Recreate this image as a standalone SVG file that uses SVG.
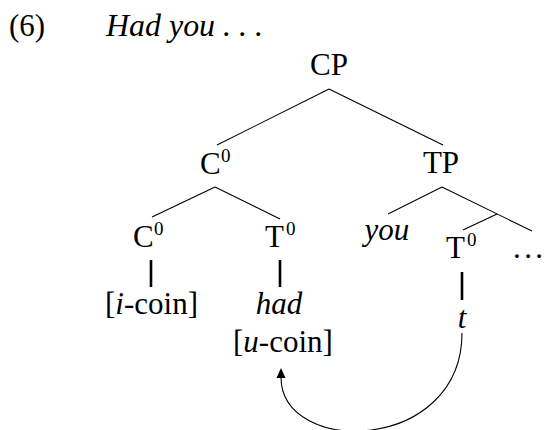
<svg xmlns="http://www.w3.org/2000/svg" width="544" height="430" viewBox="0 0 544 430">
<defs>
<style>
text{font-family:"Liberation Serif","Times New Roman",serif;font-size:31px;fill:#000}
.it{font-style:italic}
.sup{font-size:19px}
.edge{stroke:#000;stroke-width:1.1;fill:none}
.stem{stroke:#000;stroke-width:2.6;fill:none}
.move{stroke:#000;stroke-width:1.1;fill:none}
</style>
<marker id="ah" viewBox="0 0 10 10" refX="1" refY="5" markerWidth="10" markerHeight="10" markerUnits="userSpaceOnUse" orient="auto">
<path d="M0,0.5 L10,5 L0,9.5 Z" fill="#000"/>
</marker>
</defs>
<rect width="544" height="430" fill="#fff"/>
<g id="example-label">
<text x="9" y="36">(6)</text>
<text class="it" x="106" y="36" textLength="157" lengthAdjust="spacingAndGlyphs">Had you . . .</text>
</g>
<g id="connectors">
<line class="edge" x1="329" y1="89" x2="217" y2="145"/>
<line class="edge" x1="329" y1="89" x2="443" y2="145"/>
<line class="edge" x1="215" y1="187" x2="152" y2="217"/>
<line class="edge" x1="215" y1="187" x2="280" y2="219"/>
<line class="edge" x1="442" y1="187" x2="388" y2="214"/>
<line class="edge" x1="442" y1="187" x2="532" y2="231"/>
<line class="edge" x1="497" y1="214" x2="463" y2="230"/>
<line class="stem" x1="151" y1="260" x2="151" y2="287"/>
<line class="stem" x1="280" y1="260" x2="280" y2="287"/>
<line class="stem" x1="462" y1="272" x2="462" y2="300"/>
<path class="move" d="M462,333 C462,453 281,457 281,377" marker-end="url(#ah)"/>
</g>
<g id="node-CP"><text x="329" y="75" text-anchor="middle">CP</text></g>
<g id="node-C0-top"><text x="200" y="174">C<tspan class="sup" x="221" y="162">0</tspan></text></g>
<g id="node-TP"><text x="441" y="173" text-anchor="middle">TP</text></g>
<g id="node-C0-low"><text x="133" y="247">C<tspan class="sup" x="154" y="235">0</tspan></text></g>
<g id="node-T0-low"><text x="265" y="247">T<tspan class="sup" x="286" y="235">0</tspan></text></g>
<g id="node-you"><text class="it" x="387" y="240" text-anchor="middle">you</text></g>
<g id="node-T0-right"><text x="446" y="258">T<tspan class="sup" x="467" y="246">0</tspan></text></g>
<g id="node-dots"><text x="513" y="258" textLength="30" lengthAdjust="spacing">. . .</text></g>
<g id="node-i-coin"><text x="105" y="314">[<tspan class="it">i</tspan>-coin]</text></g>
<g id="node-had"><text class="it" x="279" y="314" text-anchor="middle">had</text></g>
<g id="node-u-coin"><text x="233" y="352">[<tspan class="it">u</tspan>-coin]</text></g>
<g id="node-t"><text class="it" x="462" y="328" text-anchor="middle">t</text></g>
</svg>
